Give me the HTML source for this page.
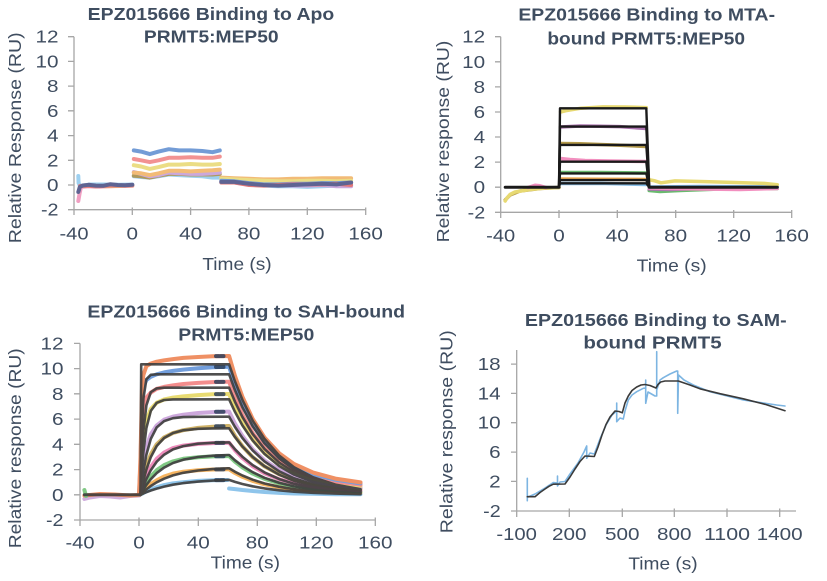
<!DOCTYPE html>
<html><head><meta charset="utf-8"><style>
html,body{margin:0;padding:0;background:#fff;}
svg{display:block;}
text{font-family:"Liberation Sans",Arial,sans-serif;fill:#3f4d60;}
.t{font-weight:bold;font-size:17.5px;}
.k{font-size:17.5px;}
.ax{stroke:#a6a6a6;stroke-width:1.3;fill:none;}
.d{fill:none;stroke-linecap:round;stroke-linejoin:round;}
</style></head><body>
<svg width="827" height="581" viewBox="0 0 827 581" xmlns="http://www.w3.org/2000/svg">
<rect width="827" height="581" fill="#fff"/>

<!-- ================= PANEL 1 (Apo) ================= -->
<text class="t" x="211" y="20" text-anchor="middle" textLength="246.6" lengthAdjust="spacingAndGlyphs">EPZ015666 Binding to Apo</text>
<text class="t" x="211.3" y="42.7" text-anchor="middle" textLength="134.7" lengthAdjust="spacingAndGlyphs">PRMT5:MEP50</text>
<text class="k" transform="translate(20.8,137.8) rotate(-90)" x="0" y="0" text-anchor="middle" textLength="211" lengthAdjust="spacingAndGlyphs">Relative Response (RU)</text>
<path class="ax" d="M74,36.7V209.7H365.7 M68,36.7H74 M68,61.4H74 M68,86.1H74 M68,110.8H74 M68,135.6H74 M68,160.3H74 M68,185H74 M68,209.7H74 M74,209.7V215 M132.3,207.5V215 M190.6,207.5V215 M248.9,207.5V215 M307.3,207.5V215 M365.7,207.5V215"/>
<g class="k" text-anchor="end">
<text x="58.5" y="42.7" textLength="23" lengthAdjust="spacingAndGlyphs">12</text>
<text x="58.5" y="67.4" textLength="23" lengthAdjust="spacingAndGlyphs">10</text>
<text x="58.5" y="92.1" textLength="11.5" lengthAdjust="spacingAndGlyphs">8</text>
<text x="58.5" y="116.8" textLength="11.5" lengthAdjust="spacingAndGlyphs">6</text>
<text x="58.5" y="141.6" textLength="11.5" lengthAdjust="spacingAndGlyphs">4</text>
<text x="58.5" y="166.3" textLength="11.5" lengthAdjust="spacingAndGlyphs">2</text>
<text x="58.5" y="191" textLength="11.5" lengthAdjust="spacingAndGlyphs">0</text>
<text x="58.5" y="215.7" textLength="17.5" lengthAdjust="spacingAndGlyphs">-2</text>
</g>
<g class="k" text-anchor="middle">
<text x="74" y="239.3" textLength="29" lengthAdjust="spacingAndGlyphs">-40</text>
<text x="132.3" y="239.3" textLength="11.5" lengthAdjust="spacingAndGlyphs">0</text>
<text x="190.6" y="239.3" textLength="23" lengthAdjust="spacingAndGlyphs">40</text>
<text x="248.9" y="239.3" textLength="23" lengthAdjust="spacingAndGlyphs">80</text>
<text x="307.3" y="239.3" textLength="34.5" lengthAdjust="spacingAndGlyphs">120</text>
<text x="365.7" y="239.3" textLength="34.5" lengthAdjust="spacingAndGlyphs">160</text>
<text x="237" y="270" textLength="69.3" lengthAdjust="spacingAndGlyphs">Time (s)</text>
</g>
<g class="d" stroke-width="4" opacity="0.85">
<polyline stroke="#ee8fb8" points="78.3,201 79.5,194 81,187 88.5,186.2 100,186.6 115,186 132.3,185.8"/>
<polyline stroke="#8cc8ee" points="78.3,176 78.6,183 80,186 90,184.5 105,184.5 120,184.8 132.3,184.5"/>
<polyline stroke="#f0b060" points="82,186 90,185.5 105,186.3 120,186 132.3,185.5"/>
<polyline stroke="#e06565" points="80,186 88.5,185.8 95.8,186.5 103.1,186 110.4,185.5 117.7,185.5 125,185.6 132.3,185.2"/>
<polyline stroke="#444a80" points="78.3,192 79.8,187 82.7,185.5 88.5,184.8 95.8,185.6 103.1,185.8 110.4,184.2 117.7,185 125,185.3 132.3,184.7"/>
<polyline stroke="#8cc8ee" points="133.8,176.3 141.1,177 149.8,177.6 158.6,176.3 168.8,174.5 179,175.1 190.6,175.7 202.3,176.3 212.5,177.6 219.8,177.6"/>
<polyline stroke="#a08840" points="133.8,175.7 141.1,176.3 149.8,177.6 158.6,175.7 168.8,173.9 179,173.9 190.6,174.5 202.3,174.5 212.5,174.5 219.8,173.9"/>
<polyline stroke="#c29ad6" points="133.8,172 141.1,173.9 149.8,176.3 158.6,175.1 168.8,172.6 179,173.3 190.6,173.9 202.3,173.9 212.5,173.3 219.8,172.6"/>
<polyline stroke="#f0b060" points="133.8,172.6 141.1,173.3 149.8,175.1 158.6,173.3 168.8,170.8 179,170.8 190.6,171.4 202.3,170.8 212.5,170.2 219.8,169.6"/>
<polyline stroke="#e8d870" points="133.8,165.2 141.1,166.5 149.8,168.9 158.6,167.1 168.8,164.6 179,164.6 190.6,164 202.3,164.6 212.5,164.6 219.8,164"/>
<polyline stroke="#f08080" points="133.8,159 141.1,160.3 149.8,162.1 158.6,160.3 168.8,157.8 179,157.8 190.6,157.2 202.3,157.8 212.5,157.8 219.8,156.6"/>
<polyline stroke="#5b8bd0" points="133.8,150.4 141.1,151.6 149.8,154.1 158.6,151.6 168.8,149.2 179,150.4 190.6,150.4 202.3,151 212.5,152.2 219.8,150.4"/>
<polyline stroke="#8cc8ee" points="221.3,182.5 234.4,182.5 249,184.4 263.6,185.6 278.2,186.2 292.7,186.2 307.3,186.9 321.9,186.2 336.5,185.6 351.1,185.6"/>
<polyline stroke="#c29ad6" points="221.3,181.3 234.4,181.9 249,184.4 263.6,184.4 278.2,185 292.7,185.6 307.3,185.6 321.9,185 336.5,186.2 351.1,186.2"/>
<polyline stroke="#f0b060" points="221.3,177.6 234.4,178.2 249,178.8 263.6,179.4 278.2,179.4 292.7,178.8 307.3,178.8 321.9,178.2 336.5,178.2 351.1,178.2"/>
<polyline stroke="#e8d870" points="221.3,178.8 234.4,179.4 249,180.1 263.6,180.7 278.2,181.3 292.7,181.3 307.3,180.7 321.9,180.7 336.5,181.3 351.1,180.7"/>
<polyline stroke="#5b8bd0" points="221.3,180.7 234.4,181.3 249,183.1 263.6,184.4 278.2,184.4 292.7,183.8 307.3,183.8 321.9,183.1 336.5,183.1 351.1,182.5"/>
<polyline stroke="#e06060" points="221.3,182.5 234.4,182.5 249,185 263.6,185.6 278.2,185 292.7,184.4 307.3,184.4 321.9,184.4 336.5,183.8 351.1,185"/>
<polyline stroke="#444a80" points="221.3,181.9 234.4,181.9 249,183.8 263.6,185 278.2,185.6 292.7,185 307.3,184.4 321.9,183.8 336.5,184.4 351.1,182.5"/>
</g>

<!-- ================= PANEL 2 (MTA) ================= -->
<text class="t" x="646.7" y="20.7" text-anchor="middle" textLength="256.7" lengthAdjust="spacingAndGlyphs">EPZ015666 Binding to MTA-</text>
<text class="t" x="646.2" y="44.3" text-anchor="middle" textLength="197.7" lengthAdjust="spacingAndGlyphs">bound PRMT5:MEP50</text>
<text class="k" transform="translate(449.2,141.5) rotate(-90)" x="0" y="0" text-anchor="middle" textLength="201.7" lengthAdjust="spacingAndGlyphs">Relative response (RU)</text>
<path class="ax" d="M500.7,36.7V212.3H791.7 M495,36.7H500.7 M495,61.8H500.7 M495,86.9H500.7 M495,112H500.7 M495,137H500.7 M495,162.1H500.7 M495,187.2H500.7 M495,212.3H500.7 M500.7,212.3V218 M559,210V218 M617.3,210V218 M675.7,210V218 M733.7,210V218 M791.7,210V218"/>
<g class="k" text-anchor="end">
<text x="485.2" y="42.7" textLength="23" lengthAdjust="spacingAndGlyphs">12</text>
<text x="485.2" y="67.8" textLength="23" lengthAdjust="spacingAndGlyphs">10</text>
<text x="485.2" y="92.9" textLength="11.5" lengthAdjust="spacingAndGlyphs">8</text>
<text x="485.2" y="118" textLength="11.5" lengthAdjust="spacingAndGlyphs">6</text>
<text x="485.2" y="143" textLength="11.5" lengthAdjust="spacingAndGlyphs">4</text>
<text x="485.2" y="168.1" textLength="11.5" lengthAdjust="spacingAndGlyphs">2</text>
<text x="485.2" y="193.2" textLength="11.5" lengthAdjust="spacingAndGlyphs">0</text>
<text x="485.2" y="218.3" textLength="17.5" lengthAdjust="spacingAndGlyphs">-2</text>
</g>
<g class="k" text-anchor="middle">
<text x="500.7" y="241.7" textLength="29" lengthAdjust="spacingAndGlyphs">-40</text>
<text x="559" y="241.7" textLength="11.5" lengthAdjust="spacingAndGlyphs">0</text>
<text x="617.3" y="241.7" textLength="23" lengthAdjust="spacingAndGlyphs">40</text>
<text x="675.7" y="241.7" textLength="23" lengthAdjust="spacingAndGlyphs">80</text>
<text x="733.7" y="241.7" textLength="34.5" lengthAdjust="spacingAndGlyphs">120</text>
<text x="791.7" y="241.7" textLength="34.5" lengthAdjust="spacingAndGlyphs">160</text>
<text x="671.7" y="271.7" textLength="70" lengthAdjust="spacingAndGlyphs">Time (s)</text>
</g>
<g class="d" stroke-width="3.5" opacity="0.85">
<polyline stroke="#a8892c" points="505.2,200 510,195 520,191 540,188.5 559,187.5"/>
<polyline stroke="#e3d35a" points="505.2,201 507,198 510,194.5 515,192 530,189.5 545,188 559,187.5"/>
<polyline stroke="#f07cb4" points="528,187.5 535,185.3 540,185.8 546,187.5"/>
<polyline stroke="#e3d35a" points="560.5,112 566,110.7 581,108.2 603,106.9 625,107 646.3,107.6"/>
<polyline stroke="#9c5aa0" points="560.5,127 580,126 600,126.3 620,126.6 646.3,128.5"/>
<polyline stroke="#a8892c" points="560.5,143.5 580,143.8 600,144.5 620,145.2 646.3,146.5"/>
<polyline stroke="#f07cb4" points="560.5,158.5 570,159.5 585,160.5 610,161 646.3,161.5"/>
<polyline stroke="#4fae55" points="560.5,172.5 600,172.5 646.3,173"/>
<polyline stroke="#e99a35" points="560.5,179 600,179.2 646.3,179.5"/>
<polyline stroke="#6fb1e2" points="560.5,183.5 600,183.4 646.3,184.5"/>
<polyline stroke="#4fae55" points="649.2,190.5 660,191.5 680,190.5 720,189 777.3,188.5"/>
<polyline stroke="#9c5aa0" points="649.2,189 670,189.5 700,188.5 740,188 777.3,187.5"/>
<polyline stroke="#f07cb4" points="649.2,188 700,189 740,189.5 777.3,188.5"/>
<polyline stroke="#6fb1e2" points="649.2,187 700,186.5 777.3,187"/>
<polyline stroke="#e3d35a" points="649,179.7 655,180.9 661,182.8 675,180.9 705,181.6 735,182.5 764,183.4 777.3,184.7"/>
</g>
<g class="d" stroke="#1a1a1a" stroke-width="2.4">
<path stroke-width="3" d="M505.2,187.2H559 M649.2,187.2H777.3"/>
<path d="M559,187.2 L560,108.3 L646.3,108.3 L649.2,187.2"/>
<path d="M559,187.2 L560,126.6 L646.3,126.6 L649.2,187.2"/>
<path d="M559,187.2 L560,144.9 L646.3,144.9 L649.2,187.2"/>
<path d="M559,187.2 L560,161.7 L646.3,161.7 L649.2,187.2"/>
<path d="M559,187.2 L560,173.4 L646.3,173.4 L649.2,187.2"/>
<path d="M559,187.2 L560,180.1 L646.3,180.1 L649.2,187.2"/>
<path d="M559,187.2 L560,183.3 L646.3,183.3 L649.2,187.2"/>
</g>

<!-- ================= PANEL 3 (SAH) ================= -->
<text class="t" x="246.2" y="317.7" text-anchor="middle" textLength="317.7" lengthAdjust="spacingAndGlyphs">EPZ015666 Binding to SAH-bound</text>
<text class="t" x="246.3" y="340.7" text-anchor="middle" textLength="136" lengthAdjust="spacingAndGlyphs">PRMT5:MEP50</text>
<text class="k" transform="translate(21,448.3) rotate(-90)" x="0" y="0" text-anchor="middle" textLength="200" lengthAdjust="spacingAndGlyphs">Relative response (RU)</text>
<path class="ax" d="M80,343.4V520H375.3 M74,343.4H80 M74,368.6H80 M74,393.8H80 M74,419.1H80 M74,444.3H80 M74,469.6H80 M74,494.8H80 M74,520H80 M80,520V526 M139,517.5V526 M198.3,517.5V526 M257.3,517.5V526 M316.3,517.5V526 M375.3,517.5V526"/>
<g class="k" text-anchor="end">
<text x="63.5" y="349.4" textLength="23" lengthAdjust="spacingAndGlyphs">12</text>
<text x="63.5" y="374.6" textLength="23" lengthAdjust="spacingAndGlyphs">10</text>
<text x="63.5" y="399.8" textLength="11.5" lengthAdjust="spacingAndGlyphs">8</text>
<text x="63.5" y="425.1" textLength="11.5" lengthAdjust="spacingAndGlyphs">6</text>
<text x="63.5" y="450.3" textLength="11.5" lengthAdjust="spacingAndGlyphs">4</text>
<text x="63.5" y="475.6" textLength="11.5" lengthAdjust="spacingAndGlyphs">2</text>
<text x="63.5" y="500.8" textLength="11.5" lengthAdjust="spacingAndGlyphs">0</text>
<text x="63.5" y="526" textLength="17.5" lengthAdjust="spacingAndGlyphs">-2</text>
</g>
<g class="k" text-anchor="middle">
<text x="80" y="548.3" textLength="29" lengthAdjust="spacingAndGlyphs">-40</text>
<text x="139" y="548.3" textLength="11.5" lengthAdjust="spacingAndGlyphs">0</text>
<text x="198.3" y="548.3" textLength="23" lengthAdjust="spacingAndGlyphs">40</text>
<text x="257.3" y="548.3" textLength="23" lengthAdjust="spacingAndGlyphs">80</text>
<text x="316.3" y="548.3" textLength="34.5" lengthAdjust="spacingAndGlyphs">120</text>
<text x="375.3" y="548.3" textLength="34.5" lengthAdjust="spacingAndGlyphs">160</text>
<text x="245.3" y="568.3" textLength="69.3" lengthAdjust="spacingAndGlyphs">Time (s)</text>
</g>
<g class="d" stroke-width="4" opacity="0.85">
<polyline stroke="#c8a0d8" points="84.4,499 90,497.5 100,496 110,496.5 120,497.5 130,496 139,495.5"/>
<polyline stroke="#ed7d4a" points="84.4,495.5 100,494 115,494.5 130,495.5 139,495"/>
<polyline stroke="#6cc070" points="84.4,490 86,496"/>
<polyline stroke="#7cbbe8" points="139,494.8 140.5,494.4 142,493.8 143.4,492.9 146.4,491.3 150.8,489.4 156.7,487.2 164.1,485.1 173,483.4 183.3,482.2 198.1,480.9 212.8,480.3 227.6,480"/>
<polyline stroke="#7cbbe8" points="229.1,488.5 235,489.1 242.4,490 252.7,491 264.5,492 279.3,492.9 294,493.5 313.2,493.8 335.4,494.2 360.5,494.2"/>
<polyline stroke="#f5a845" points="139,494.8 140.5,494.2 142,492.9 143.4,491 146.4,487.9 150.8,484.1 156.7,480.3 164.1,476.5 173,473.6 183.3,471.7 198.1,470.3 212.8,469.5 227.6,469.3 229.1,469.3 235,473 242.4,476.8 252.7,480.9 264.5,484.3 279.3,487.2 294,489.1 313.2,490.7 335.4,491.8 360.5,492.5"/>
<polyline stroke="#6cc070" points="139,494.8 140.5,493.5 142,491 143.4,487.9 146.4,482.8 150.8,476.5 156.7,470.2 164.1,465.1 173,461.4 183.3,458.8 198.1,457.2 212.8,456.4 227.6,456.1 229.1,456.1 235,461.7 242.4,467.4 252.7,473.6 264.5,478.8 279.3,483.3 294,486.2 313.2,488.6 335.4,490.3 360.5,491.4"/>
<polyline stroke="#ea78b0" points="139,494.8 140.5,492.3 142,488.5 143.4,483.4 146.4,475.9 150.8,467 156.7,458.8 164.1,452.5 173,448.1 183.3,445.6 198.1,443.9 212.8,443.1 227.6,442.7 229.1,442.7 235,450.2 242.4,458 252.7,466.3 264.5,473.3 279.3,479.3 294,483.2 313.2,486.5 335.4,488.7 360.5,490.2"/>
<polyline stroke="#c8a650" points="139,494.8 140.5,491 142,484.7 143.4,477.1 146.4,465.8 150.8,454.4 156.7,444.3 164.1,437.4 173,433 183.3,430.2 198.1,427.9 212.8,426.7 227.6,426 229.1,426 235,436 242.4,446.2 252.7,457.2 264.5,466.4 279.3,474.3 294,479.5 313.2,483.8 335.4,486.7 360.5,488.7"/>
<polyline stroke="#c59ad6" points="139,494.8 140.5,488.5 142,475.9 143.4,462 146.4,446.8 150.8,434.2 156.7,425.4 164.1,419.7 173,416.6 183.3,414.7 198.1,413 212.8,412.1 227.6,411.6 229.1,411.6 235,423.7 242.4,436 252.7,449.4 264.5,460.4 279.3,470 294,476.3 313.2,481.5 335.4,485.1 360.5,487.4"/>
<polyline stroke="#e5d55a" points="139,494.8 140.5,482.2 142,450.6 143.4,435.5 146.4,420.3 150.8,409 156.7,402.7 164.1,399.5 173,397.6 183.3,396.4 198.1,395.1 212.8,394.3 227.6,394 229.1,394 235,408.6 242.4,423.5 252.7,439.7 264.5,453.2 279.3,464.8 294,472.4 313.2,478.7 335.4,483 360.5,485.8"/>
<polyline stroke="#f27a7a" points="139,494.8 140.5,475.9 142,425.4 143.4,407.7 146.4,397.6 150.8,392.6 156.7,388.8 164.1,386.9 173,385.3 183.3,384 198.1,382.9 212.8,382.1 227.6,381.7 229.1,381.7 235,398.1 242.4,414.9 252.7,433.1 264.5,448.1 279.3,461.1 294,469.7 313.2,476.7 335.4,481.6 360.5,484.7"/>
<polyline stroke="#5a8ed6" points="139,494.8 140.5,463.3 142,400.2 143.4,386.3 146.4,380 150.8,376.8 156.7,374.3 164.1,372.4 173,370.9 183.3,369.6 198.1,368.2 212.8,367.3 227.6,366.7 229.1,366.7 235,385.3 242.4,404.2 252.7,424.9 264.5,441.9 279.3,456.6 294,466.4 313.2,474.3 335.4,479.8 360.5,483.4"/>
<polyline stroke="#ed7d4a" points="139,494.8 140.5,456.9 142,387.5 143.4,374.9 146.4,366.1 150.8,363.5 156.7,361.7 164.1,360.4 173,359.1 183.3,357.9 198.1,357 212.8,356.2 227.6,356 229.1,356 235,376.1 242.4,396.7 252.7,419 264.5,437.5 279.3,453.4 294,464 313.2,472.6 335.4,478.6 360.5,482.4"/>
</g>
<g class="d" stroke="#2c3e5a" stroke-width="4" stroke-dasharray="3 1.5" opacity="0.85">
<path d="M216,356.1H225 M216,367H225 M216,381.9H225 M216,394.1H225 M216,411.8H225 M216,426.3H225 M216,442.9H225 M216,456.2H225 M216,469.4H225 M216,480.1H225"/>
</g>
<g class="d" stroke="#3d3d3d" stroke-width="2.6" opacity="0.9">
<path stroke-width="3" d="M84.4,494.8 L140.5,494.8"/>
<path d="M140.5,494.8 L141.2,364.3 L227.6,364.3 L229.1,364.3 L235,381.5 L242.4,399.9 L252.7,420.7 L264.5,438.9 L279.3,455.7 L294,467.3 L313.2,477.4 L335.4,484.6 L360.5,489.2"/>
<path d="M140.5,494.8 L142,428.4 L143.4,398.6 L146.4,379.2 L150.8,374.8 L156.7,374.3 L227.6,374.3 L229.1,374.3 L235,390.2 L242.4,407.2 L252.7,426.3 L264.5,443.2 L279.3,458.6 L294,469.4 L313.2,478.8 L335.4,485.4 L360.5,489.6"/>
<path d="M140.5,494.8 L142,456.1 L143.4,431.3 L146.4,405.3 L150.8,392.2 L156.7,388.4 L164.1,387.7 L227.6,387.7 L229.1,387.7 L235,401.8 L242.4,416.9 L252.7,433.9 L264.5,448.9 L279.3,462.7 L294,472.2 L313.2,480.6 L335.4,486.4 L360.5,490.2"/>
<path d="M140.5,494.8 L142,470.1 L143.4,451.8 L146.4,428 L150.8,410.9 L156.7,402.8 L164.1,400 L173,399.4 L227.6,399.3 L229.1,399.3 L235,411.9 L242.4,425.4 L252.7,440.5 L264.5,453.9 L279.3,466.1 L294,474.6 L313.2,482.1 L335.4,487.4 L360.5,490.7"/>
<path d="M140.5,494.8 L142,481.9 L143.4,471.2 L146.4,454.7 L150.8,438.9 L156.7,427.4 L164.1,421.1 L173,418.2 L183.3,417.1 L198.1,416.8 L227.6,416.7 L229.1,416.7 L235,427 L242.4,438 L252.7,450.4 L264.5,461.4 L279.3,471.4 L294,478.3 L313.2,484.4 L335.4,488.7 L360.5,491.4"/>
<path d="M140.5,494.8 L142,487.3 L143.4,480.7 L146.4,469.4 L150.8,457.1 L156.7,446 L164.1,438 L173,433 L183.3,430.3 L198.1,428.8 L212.8,428.4 L227.6,428.3 L229.1,428.3 L235,437.1 L242.4,446.5 L252.7,457 L264.5,466.3 L279.3,474.8 L294,480.8 L313.2,486 L335.4,489.6 L360.5,491.9"/>
<path d="M140.5,494.8 L142,490.3 L143.4,486.1 L146.4,478.9 L150.8,470.2 L156.7,461.7 L164.1,454.7 L173,449.4 L183.3,446.1 L198.1,443.7 L212.8,442.8 L227.6,442.4 L229.1,442.4 L235,449.3 L242.4,456.7 L252.7,465.1 L264.5,472.4 L279.3,479.1 L294,483.7 L313.2,487.8 L335.4,490.7 L360.5,492.5"/>
<path d="M140.5,494.8 L142,492 L143.4,489.5 L146.4,484.9 L150.8,479.2 L156.7,473.1 L164.1,467.6 L173,463 L183.3,459.7 L198.1,457 L212.8,455.7 L227.6,455 L229.1,455 L235,460.3 L242.4,465.9 L252.7,472.2 L264.5,477.8 L279.3,482.9 L294,486.4 L313.2,489.5 L335.4,491.7 L360.5,493.1"/>
<path d="M140.5,494.8 L142,493.3 L143.4,491.9 L146.4,489.4 L150.8,486 L156.7,482.3 L164.1,478.7 L173,475.4 L183.3,472.8 L198.1,470.5 L212.8,469.1 L227.6,468.3 L229.1,468.3 L235,471.8 L242.4,475.5 L252.7,479.7 L264.5,483.5 L279.3,486.8 L294,489.2 L313.2,491.3 L335.4,492.7 L360.5,493.7"/>
<path d="M140.5,494.8 L142,494.1 L143.4,493.4 L146.4,492.2 L150.8,490.5 L156.7,488.6 L164.1,486.6 L173,484.7 L183.3,483.1 L198.1,481.6 L212.8,480.6 L227.6,479.9 L229.1,479.9 L235,481.9 L242.4,484 L252.7,486.3 L264.5,488.4 L279.3,490.3 L294,491.7 L313.2,492.8 L335.4,493.6 L360.5,494.2"/>
</g>

<!-- ================= PANEL 4 (SAM) ================= -->
<text class="t" x="655.8" y="326" text-anchor="middle" textLength="261.7" lengthAdjust="spacingAndGlyphs">EPZ015666 Binding to SAM-</text>
<text class="t" x="652.5" y="348.3" text-anchor="middle" textLength="138.3" lengthAdjust="spacingAndGlyphs">bound PRMT5</text>
<text class="k" transform="translate(452.5,431.7) rotate(-90)" x="0" y="0" text-anchor="middle" textLength="203" lengthAdjust="spacingAndGlyphs">Relative response (RU)</text>
<path class="ax" d="M516.7,350V511H796 M511,364.1H516.7 M511,393.4H516.7 M511,422.7H516.7 M511,452.1H516.7 M511,481.4H516.7 M511,511H516.7 M516.7,511V517 M569.3,508.5V517 M622.3,508.5V517 M674.3,508.5V517 M727,508.5V517 M779.7,508.5V517"/>
<g class="k" text-anchor="end">
<text x="500.7" y="370.1" textLength="23" lengthAdjust="spacingAndGlyphs">18</text>
<text x="500.7" y="399.4" textLength="23" lengthAdjust="spacingAndGlyphs">14</text>
<text x="500.7" y="428.7" textLength="23" lengthAdjust="spacingAndGlyphs">10</text>
<text x="500.7" y="458.1" textLength="11.5" lengthAdjust="spacingAndGlyphs">6</text>
<text x="500.7" y="487.4" textLength="11.5" lengthAdjust="spacingAndGlyphs">2</text>
<text x="500.7" y="517" textLength="17.5" lengthAdjust="spacingAndGlyphs">-2</text>
</g>
<g class="k" text-anchor="middle">
<text x="516.7" y="540" textLength="40.5" lengthAdjust="spacingAndGlyphs">-100</text>
<text x="569.3" y="540" textLength="34.5" lengthAdjust="spacingAndGlyphs">200</text>
<text x="622.3" y="540" textLength="34.5" lengthAdjust="spacingAndGlyphs">500</text>
<text x="674.3" y="540" textLength="34.5" lengthAdjust="spacingAndGlyphs">800</text>
<text x="727" y="540" textLength="46" lengthAdjust="spacingAndGlyphs">1100</text>
<text x="779.7" y="540" textLength="46" lengthAdjust="spacingAndGlyphs">1400</text>
<text x="663" y="569.5" textLength="69.3" lengthAdjust="spacingAndGlyphs">Time (s)</text>
</g>
<path class="d" stroke="#7db5e2" stroke-width="1.6" d="M527.3,478.3 L527.3,500.7 M528,497 L535,494 L545,488 L553.3,482.5 L557.5,483 L557.5,476 L557.5,486 L560,482 L565,481.5 L570,474 L578,463 L584,452 L586.7,446 L586.7,458.3 L590,453 L594.3,454 L600,439 L606,425 L612,415 L616.7,411 L616.7,403 L616.7,421.7 L620,418 L623.3,419 L625,411 L628.3,400 L632,395 L636.7,391.7 L643.3,388.3 L645.7,388 L645.7,380 L645.7,403.3 L648,392 L655,396 L656.7,396 L656.7,351.7 L656.7,390 L660,380 L663.3,377.7 L670,374 L676.7,371 L677.7,371 L677.7,413.3 L678.5,375 L684,380 L693.3,385 L710,391.7 L743.3,400 L776.7,405 L785,406"/>
<path class="d" stroke="#3a3a3a" stroke-width="1.6" d="M527.3,496.7 L535,496.7 L540,492.5 L545,489 L549,486.3 L553.3,484.2 L565,484 L570,477 L575,469 L580,461.5 L585,456 L594.3,456.5 L598,447 L602,435 L606,424.5 L610,417 L615,411 L619,411.5 L622.3,412.8 L625,403 L628.3,396 L632,390.5 L636.7,387 L641,385 L645,384.5 L650,385.5 L656,388 L658,384.5 L660.7,382 L665,381 L678.3,381 L690,385 L700,388.8 L720,393.7 L743.3,398.8 L765,404.3 L785,410.7"/>
</svg>
</body></html>
